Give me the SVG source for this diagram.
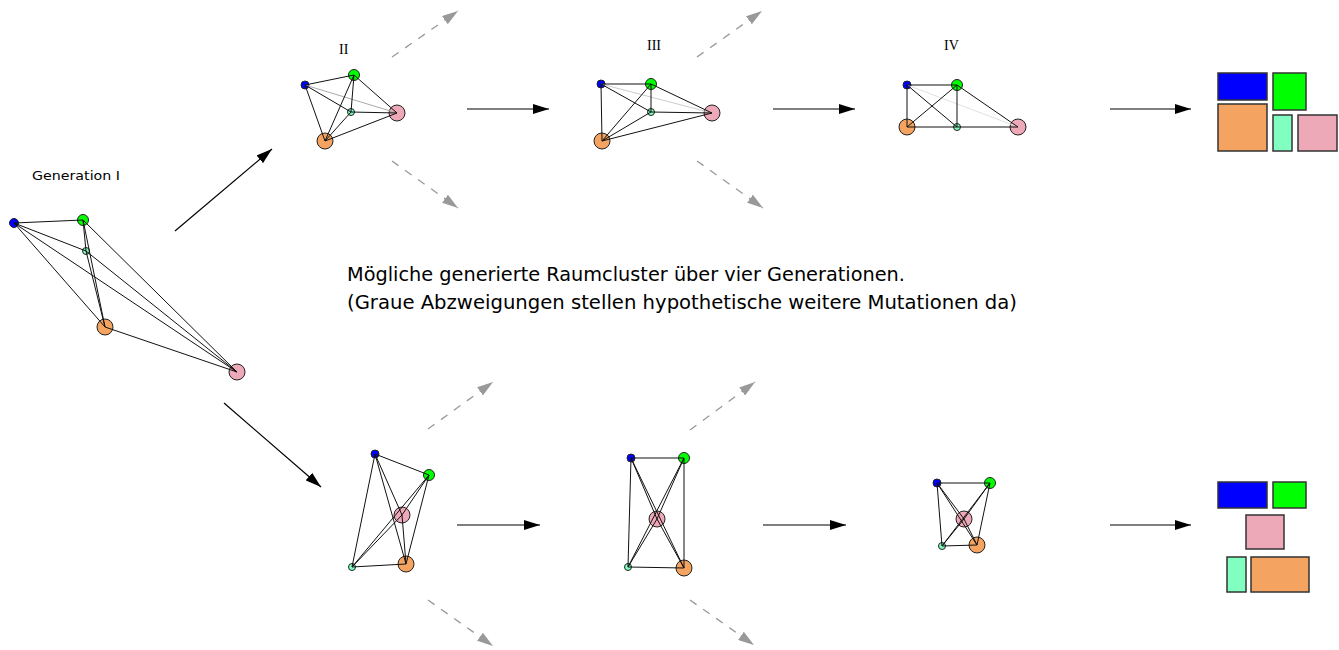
<svg xmlns="http://www.w3.org/2000/svg" width="1339" height="650" viewBox="0 0 1339 650">
<style>
.e{stroke:#111;stroke-width:1;fill:none}
.g{stroke:#aaa;stroke-width:1;fill:none}
.n{stroke:#222;stroke-width:1}
.b{fill:#0000ff}.gr{fill:#00ff00}.t{fill:#80ffc0}.o{fill:#f4a460}.p{fill:#eea9b8}
.r{stroke:#333;stroke-width:1.5}
.a{stroke:#000;stroke-width:1.2;fill:none;marker-end:url(#ah)}
.d{stroke:#999;stroke-width:1.3;fill:none;stroke-dasharray:8 8;marker-end:url(#gh)}
.lbl{font-family:"Liberation Serif",serif;font-size:14px;fill:#000}
.txt{font-family:"DejaVu Sans",sans-serif;font-size:20px;fill:#000}
</style>
<defs>
<marker id="ah" viewBox="0 0 16 10" refX="16" refY="5" markerWidth="16" markerHeight="10" markerUnits="userSpaceOnUse" orient="auto"><path d="M0,0 L16,5 L0,10 Z" fill="#000"/></marker>
<marker id="gh" viewBox="0 0 16 10" refX="16" refY="5" markerWidth="16" markerHeight="10" markerUnits="userSpaceOnUse" orient="auto"><path d="M0,0 L16,5 L0,10 Z" fill="#999"/></marker>
</defs>
<rect width="1339" height="650" fill="#fff"/>

<text x="32" y="180" style="font-family:'DejaVu Sans',sans-serif;font-size:13px" textLength="88" lengthAdjust="spacingAndGlyphs">Generation I</text>
<text class="lbl" x="339" y="54">II</text>
<text class="lbl" x="647" y="50">III</text>
<text class="lbl" x="944" y="50">IV</text>

<text class="txt" x="347" y="281" textLength="558" lengthAdjust="spacingAndGlyphs">Mögliche generierte Raumcluster über vier Generationen.</text>
<text class="txt" x="347" y="309" textLength="670" lengthAdjust="spacingAndGlyphs">(Graue Abzweigungen stellen hypothetische weitere Mutationen da)</text>

<g id="gen1">
<circle class="n b" cx="14" cy="223" r="4.5"/>
<circle class="n gr" cx="83" cy="220" r="5.5"/>
<circle class="n t" cx="86" cy="251" r="3.5"/>
<circle class="n o" cx="105" cy="327" r="8"/>
<circle class="n p" cx="237" cy="372" r="8"/>
<path class="e" d="M14,223L83,220M14,223L86,251M14,223L105,327M14,223L237,372M83,220L86,251M83,220L105,327M83,220L237,372M86,251L105,327M86,251L237,372M105,327L237,372"/>
</g>

<g id="top2">
<circle class="n b" cx="305" cy="85" r="4"/>
<circle class="n gr" cx="354" cy="75" r="5.5"/>
<circle class="n t" cx="351" cy="112" r="3.5"/>
<circle class="n p" cx="397" cy="113" r="8"/>
<circle class="n o" cx="325" cy="141" r="8"/>
<path class="g" d="M305,85L397,113"/>
<path class="e" d="M305,85L354,75M305,85L351,112M305,85L325,141M354,75L351,112M354,75L325,141M354,75L397,113M351,112L325,141M351,112L397,113M325,141L397,113"/>
</g>

<g id="top3">
<circle class="n b" cx="601" cy="84" r="4"/>
<circle class="n gr" cx="651" cy="84" r="5.5"/>
<circle class="n t" cx="651" cy="112" r="3.5"/>
<circle class="n p" cx="712" cy="113" r="8"/>
<circle class="n o" cx="602" cy="141" r="8"/>
<path class="g" d="M601,84L712,113" style="stroke:#ccc"/>
<path class="e" d="M601,84L651,84M601,84L651,112M601,84L602,141M651,84L651,112M651,84L602,141M651,84L712,113M651,112L602,141M651,112L712,113M602,141L712,113"/>
</g>

<g id="top4">
<circle class="n b" cx="907" cy="85" r="4"/>
<circle class="n gr" cx="957" cy="85" r="5.5"/>
<circle class="n t" cx="957" cy="127" r="3.5"/>
<circle class="n p" cx="1018" cy="127" r="8"/>
<circle class="n o" cx="907" cy="127" r="8"/>
<path class="g" d="M907,85L1018,127" style="stroke:#e0e0e0"/>
<path class="e" d="M907,85L957,85M907,85L957,127M907,85L907,127M957,85L957,127M957,85L907,127M957,85L1018,127M907,127L1018,127"/>
</g>

<g id="top5">
<rect class="r b" x="1218" y="73" width="49" height="27"/>
<rect class="r gr" x="1273" y="73" width="33" height="37"/>
<rect class="r o" x="1218" y="104" width="49" height="47"/>
<rect class="r t" x="1273" y="115" width="19" height="36"/>
<rect class="r p" x="1298" y="115" width="39" height="36"/>
</g>

<g id="bot2">
<circle class="n b" cx="375" cy="454" r="4"/>
<circle class="n gr" cx="429" cy="475" r="5.5"/>
<circle class="n p" cx="402" cy="515" r="8"/>
<circle class="n o" cx="406" cy="564" r="8"/>
<circle class="n t" cx="352" cy="567" r="3.5"/>
<path class="e" d="M375,454L429,475M375,454L402,515M375,454L406,564M375,454L352,567M429,475L402,515M429,475L406,564M429,475L352,567M402,515L406,564M402,515L352,567M406,564L352,567"/>
</g>

<g id="bot3">
<circle class="n b" cx="631" cy="458" r="4"/>
<circle class="n gr" cx="684" cy="458" r="5.5"/>
<circle class="n p" cx="657" cy="519" r="8"/>
<circle class="n t" cx="628" cy="567" r="3.5"/>
<circle class="n o" cx="684" cy="568" r="8"/>
<path class="e" d="M631,458L684,458M631,458L657,519M631,458L628,567M631,458L684,568M684,458L657,519M684,458L628,567M684,458L684,568M657,519L628,567M657,519L684,568M628,567L684,568"/>
</g>

<g id="bot4">
<circle class="n b" cx="937" cy="483" r="4"/>
<circle class="n gr" cx="990" cy="483" r="5.5"/>
<circle class="n p" cx="964" cy="519" r="8"/>
<circle class="n t" cx="942" cy="546" r="3.5"/>
<circle class="n o" cx="977" cy="545" r="8"/>
<path class="e" d="M937,483L990,483M937,483L964,519M937,483L942,546M937,483L977,545M990,483L964,519M990,483L942,546M990,483L977,545M964,519L942,546M964,519L977,545M942,546L977,545"/>
</g>

<g id="bot5">
<rect class="r b" x="1218" y="482" width="49" height="26"/>
<rect class="r gr" x="1273" y="482" width="33" height="26"/>
<rect class="r p" x="1246" y="515" width="38" height="34"/>
<rect class="r t" x="1227" y="557" width="19" height="35"/>
<rect class="r o" x="1251" y="557" width="58" height="35"/>
</g>

<g id="connectors">
<path class="a" d="M175,231L272,149"/>
<path class="a" d="M224,403L321,487"/>
<path class="a" d="M467,109L549,109"/>
<path class="a" d="M773,109L855,109"/>
<path class="a" d="M1110,109L1191,109"/>
<path class="a" d="M457,525L540,525"/>
<path class="a" d="M763,525L846,525"/>
<path class="a" d="M1110,525L1191,525"/>
<path class="d" d="M392,57L458,11"/>
<path class="d" d="M392,161L458,208"/>
<path class="d" d="M697,57L762,11"/>
<path class="d" d="M697,161L763,208"/>
<path class="d" d="M428,429L493,382"/>
<path class="d" d="M428,600L493,646"/>
<path class="d" d="M690,430L755,382"/>
<path class="d" d="M690,600L754,645"/>
</g>
</svg>
